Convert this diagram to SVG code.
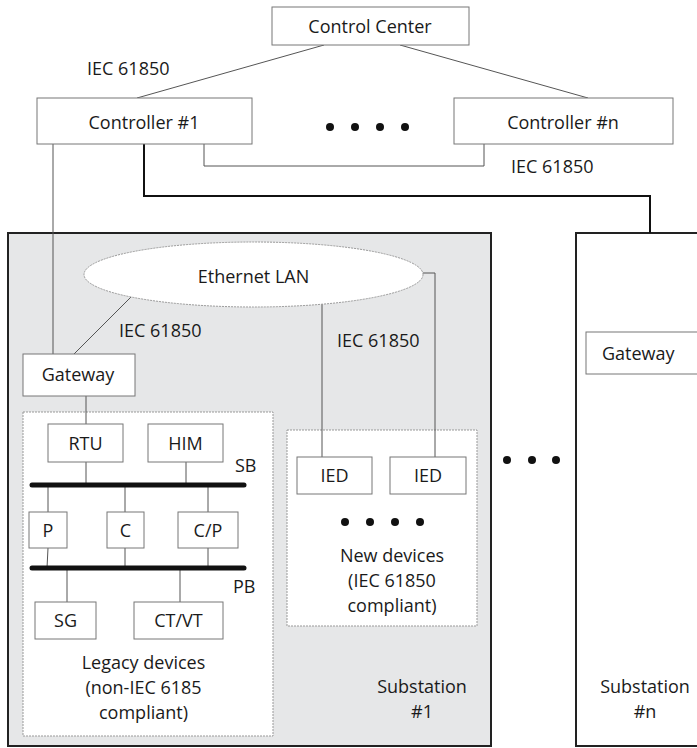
<svg xmlns="http://www.w3.org/2000/svg" width="697" height="748" viewBox="0 0 697 748">
<style>
text{font-family:"Open Sans","Liberation Sans",sans-serif;font-size:18px;fill:#1a1a1a}
.c{text-anchor:middle}
.box{fill:#fff;stroke:#777;stroke-width:1}
.dash{fill:#fff;stroke:#999;stroke-width:1;stroke-dasharray:2 1}
.thin{fill:none;stroke:#555;stroke-width:1}
.thick{fill:none;stroke:#111;stroke-width:2}
.bus{stroke:#111;stroke-width:5;stroke-linecap:round}
.sub{stroke:#222;stroke-width:2}
.dot{fill:#111}
</style>
<rect x="0" y="0" width="697" height="748" fill="#fff"/>
<g id="substation1"><rect class="sub" x="8" y="233" width="483" height="513" fill="#e6e7e8"/><text class="c" x="422" y="693">Substation</text><text class="c" x="422" y="718">#1</text></g>
<g id="substationn"><rect class="sub" x="576" y="233" width="130" height="513" fill="#fff"/><text class="c" x="645" y="693">Substation</text><text class="c" x="645" y="718">#n</text></g>
<g id="legacy"><rect class="dash" x="23" y="412" width="250" height="324"/><text class="c" x="143.5" y="669">Legacy devices</text><text class="c" x="143.5" y="694">(non-IEC 6185</text><text class="c" x="143.5" y="719">compliant)</text></g>
<g id="newdevices"><rect class="dash" x="287" y="430" width="190" height="196"/><text class="c" x="392" y="562">New devices</text><text class="c" x="392" y="587">(IEC 61850</text><text class="c" x="392" y="612">compliant)</text>
<circle class="dot" cx="345" cy="522" r="4"/><circle class="dot" cx="370" cy="522" r="4"/><circle class="dot" cx="395" cy="522" r="4"/><circle class="dot" cx="420" cy="522" r="4"/></g>
<g id="connectors">
<line class="thin" x1="324" y1="45" x2="137" y2="98"/>
<line class="thin" x1="400" y1="45" x2="588" y2="98"/>
<polyline class="thin" points="204,144 204,166 484,166 484,144"/>
<polyline class="thick" points="144,144 144,196 650,196 650,233"/>
<line class="thin" x1="53" y1="144" x2="53" y2="354"/>
<line class="thin" x1="131" y1="297" x2="74" y2="354"/>
<line class="thin" x1="86" y1="396" x2="86" y2="424"/>
<line class="thin" x1="322" y1="304" x2="322" y2="457"/>
<polyline class="thin" points="423,273 435,273 435,457"/>
<line class="thin" x1="86" y1="462" x2="86" y2="485"/>
<line class="thin" x1="186" y1="462" x2="186" y2="485"/>
<line class="thin" x1="48" y1="485" x2="48" y2="512"/>
<line class="thin" x1="125" y1="485" x2="125" y2="512"/>
<line class="thin" x1="208" y1="485" x2="208" y2="512"/>
<line class="thin" x1="48" y1="548" x2="47" y2="568"/>
<line class="thin" x1="125" y1="548" x2="125" y2="568"/>
<line class="thin" x1="208" y1="548" x2="208" y2="568"/>
<line class="thin" x1="67" y1="568" x2="67" y2="602"/>
<line class="thin" x1="180" y1="568" x2="180" y2="602"/>
<line class="bus" x1="32" y1="485" x2="244" y2="485"/>
<line class="bus" x1="32" y1="568" x2="244" y2="568"/>
</g>
<g id="labels">
<text x="87" y="75">IEC 61850</text>
<text x="511" y="173">IEC 61850</text>
<text x="119" y="337">IEC 61850</text>
<text x="337" y="347">IEC 61850</text>
<text x="235" y="472">SB</text>
<text x="233" y="593">PB</text>
<circle class="dot" cx="330" cy="127" r="4"/><circle class="dot" cx="355" cy="127" r="4"/><circle class="dot" cx="380" cy="127" r="4"/><circle class="dot" cx="405" cy="127" r="4"/>
<circle class="dot" cx="507" cy="460" r="4"/><circle class="dot" cx="532" cy="460" r="4"/><circle class="dot" cx="556" cy="460" r="4"/>
</g>
<g id="controlcenter"><rect class="box" x="272" y="7" width="197" height="38"/><text class="c" x="370" y="33">Control Center</text></g>
<g id="controller1"><rect class="box" x="37" y="98" width="215" height="46"/><text class="c" x="144" y="129">Controller #1</text></g>
<g id="controllern"><rect class="box" x="454" y="98" width="219" height="46"/><text class="c" x="563" y="129">Controller #n</text></g>
<g id="ethernet"><ellipse class="dash" cx="253.5" cy="274.5" rx="169.5" ry="32.5"/><text class="c" x="253.5" y="283">Ethernet LAN</text></g>
<g id="gateway1"><rect class="box" x="23" y="354" width="112" height="42"/><text class="c" x="78" y="381">Gateway</text></g>
<g id="gatewayn"><rect class="box" x="586" y="332" width="120" height="42"/><text x="602" y="360">Gateway</text></g>
<g id="rtu"><rect class="box" x="48" y="424" width="75" height="38"/><text class="c" x="85.5" y="450">RTU</text></g>
<g id="him"><rect class="box" x="148" y="424" width="75" height="38"/><text class="c" x="185.5" y="450">HIM</text></g>
<g id="ied1"><rect class="box" x="297" y="457" width="75" height="37"/><text class="c" x="334.5" y="482">IED</text></g>
<g id="ied2"><rect class="box" x="390" y="457" width="76" height="37"/><text class="c" x="428" y="482">IED</text></g>
<g id="p"><rect class="box" x="29" y="512" width="38" height="36"/><text class="c" x="48" y="537">P</text></g>
<g id="c"><rect class="box" x="107" y="512" width="37" height="36"/><text class="c" x="125.5" y="537">C</text></g>
<g id="cp"><rect class="box" x="178" y="512" width="60" height="36"/><text class="c" x="208" y="537">C/P</text></g>
<g id="sg"><rect class="box" x="35" y="602" width="61" height="37"/><text class="c" x="65.5" y="627">SG</text></g>
<g id="ctvt"><rect class="box" x="134" y="602" width="89" height="37"/><text class="c" x="178.5" y="627">CT/VT</text></g>
</svg>
